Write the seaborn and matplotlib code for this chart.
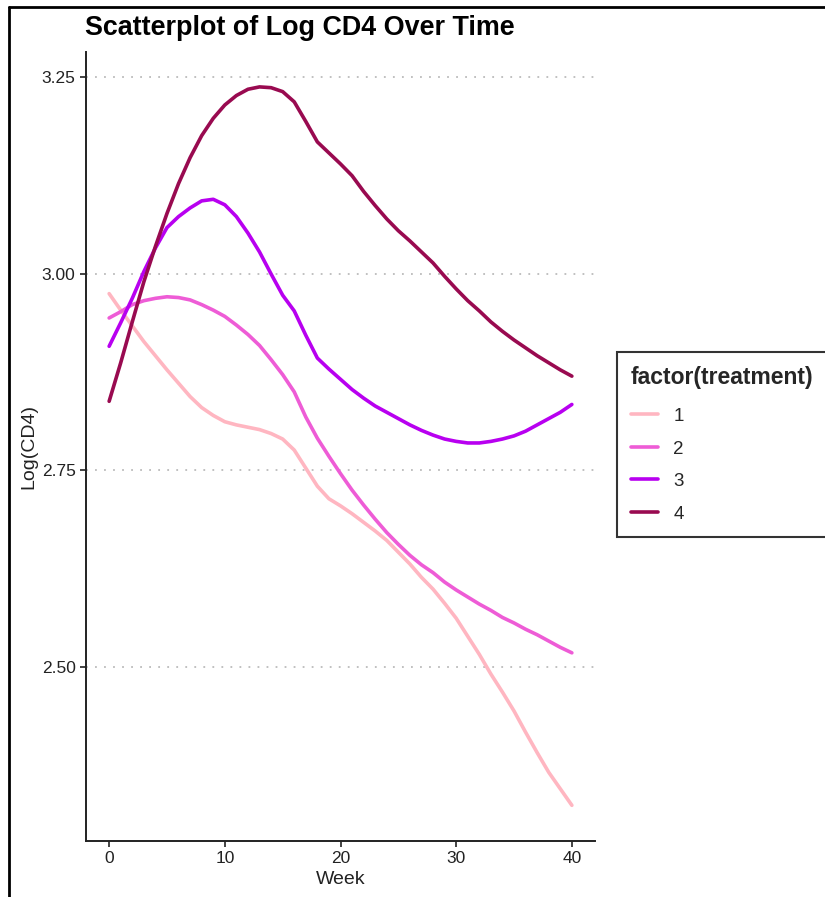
import numpy as np
import pandas as pd
import matplotlib
matplotlib.use("Agg")
import matplotlib.pyplot as plt
import seaborn as sns
from matplotlib.lines import Line2D

# ---- data ----
weeks = list(range(0, 41))
treat1 = [2.975, 2.954, 2.934, 2.914, 2.896, 2.878, 2.861, 2.844, 2.830, 2.820,
          2.812, 2.808, 2.805, 2.802, 2.797, 2.790, 2.776, 2.753, 2.730, 2.714,
          2.705, 2.695, 2.684, 2.673, 2.661, 2.646, 2.631, 2.614, 2.599, 2.581,
          2.562, 2.539, 2.516, 2.491, 2.468, 2.444, 2.417, 2.391, 2.366, 2.345,
          2.324]
treat2 = [2.944, 2.952, 2.961, 2.966, 2.969, 2.971, 2.970, 2.967, 2.961, 2.954,
          2.946, 2.935, 2.923, 2.909, 2.891, 2.872, 2.850, 2.818, 2.791, 2.768,
          2.746, 2.725, 2.706, 2.688, 2.671, 2.656, 2.642, 2.630, 2.620, 2.608,
          2.598, 2.589, 2.580, 2.572, 2.563, 2.556, 2.548, 2.541, 2.533, 2.525,
          2.518]
treat3 = [2.908, 2.938, 2.969, 3.003, 3.033, 3.059, 3.073, 3.084, 3.093, 3.095,
          3.088, 3.073, 3.052, 3.028, 3.000, 2.973, 2.953, 2.922, 2.893, 2.879,
          2.866, 2.853, 2.842, 2.832, 2.824, 2.816, 2.808, 2.801, 2.795, 2.790,
          2.787, 2.785, 2.785, 2.787, 2.790, 2.794, 2.800, 2.808, 2.816, 2.824,
          2.834]
treat4 = [2.838, 2.887, 2.939, 2.990, 3.035, 3.077, 3.115, 3.148, 3.176, 3.198,
          3.215, 3.227, 3.235, 3.238, 3.237, 3.232, 3.219, 3.194, 3.168, 3.154,
          3.140, 3.125, 3.105, 3.087, 3.070, 3.055, 3.042, 3.028, 3.014, 2.997,
          2.981, 2.966, 2.953, 2.939, 2.927, 2.916, 2.906, 2.896, 2.887, 2.878,
          2.870]
treatments = ["1", "2", "3", "4"]
colors = ["#FFB6C1", "#EE5CD6", "#B800F0", "#990A50"]

df = pd.concat([
    pd.DataFrame({"Week": weeks, "logcd4": vals, "treatment": t})
    for t, vals in zip(treatments, [treat1, treat2, treat3, treat4])
])

sns.set_theme(style="white")
plt.rcParams["font.family"] = ["Liberation Sans", "DejaVu Sans"]

fig = plt.figure(figsize=(8.25, 8.97), dpi=100)
ax = fig.add_axes([86/825, 1-841/897, (595-86)/825, (841-52)/897])

sns.lineplot(data=df, x="Week", y="logcd4", hue="treatment",
             hue_order=treatments, palette=colors, linewidth=2.6,
             legend=False, ax=ax)
for ln in ax.get_lines():
    ln.set_solid_joinstyle("round")

ax.set_xlim(-2, 42)
ax.set_ylim(2.2786, 3.2824)
ax.set_xticks([0, 10, 20, 30, 40])
ax.set_yticks([2.50, 2.75, 3.00, 3.25])
ax.set_yticklabels(["2.50", "2.75", "3.00", "3.25"])
ax.yaxis.grid(True, linestyle=(0, (1, 4)), color="#bbbbbb", linewidth=1.3)
ax.xaxis.grid(False)
for s in ["top", "right"]:
    ax.spines[s].set_visible(False)
for s in ["left", "bottom"]:
    ax.spines[s].set_color("#222222")
    ax.spines[s].set_linewidth(1.4)
ax.tick_params(axis="both", which="both", length=4, width=1.2, color="#222222",
               labelsize=12.5, labelcolor="#222222", direction="out", left=True, bottom=True)
ax.set_xlabel("Week", fontsize=14, color="#222222", labelpad=3)
ax.set_ylabel("Log(CD4)", fontsize=14, color="#222222", labelpad=3)

fig.text(85/825, 1-28/897, "Scatterplot of Log CD4 Over Time", fontsize=19.4,
         fontweight="bold", ha="left", va="center", color="black")

handles = [Line2D([0], [0], color=c, lw=2.6) for c in colors]
leg = fig.legend(handles, treatments, title="factor(treatment)",
                 loc="upper left", bbox_to_anchor=(617/825, 1-352/897),
                 borderaxespad=0.0,
                 frameon=True, fancybox=False, fontsize=13.5, title_fontsize=16.5,
                 handlelength=1.45, handletextpad=0.8, labelspacing=0.82,
                 borderpad=0.75, alignment="left")
leg.get_title().set_fontweight("bold")
leg.get_frame().set_edgecolor("black")
leg.get_frame().set_linewidth(1.5)
# a little more room between the legend title and its entries (in points)
leg._legend_box.sep = 0.82 * 13.5 + 2.5

# screenshot border (top and left edges)
fig.add_artist(Line2D([9/825, 9/825], [0, 1-7/897], transform=fig.transFigure,
                      color="black", lw=2))
fig.add_artist(Line2D([9/825, 1], [1-7/897, 1-7/897], transform=fig.transFigure,
                      color="black", lw=2))

fig.savefig("out.png", dpi=100)
